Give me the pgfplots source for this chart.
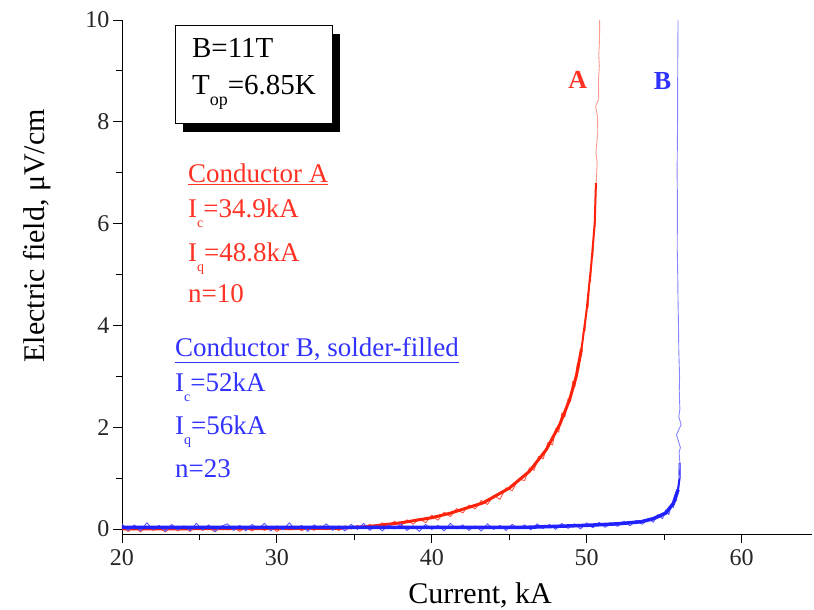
\documentclass[border=0pt]{standalone}
\usepackage{pgfplots}
\pgfplotsset{compat=1.18}
\usepackage{fontspec}
\setmainfont{Liberation Serif}
\usetikzlibrary{shadows}
\definecolor{cred}{RGB}{255,34,10}
\definecolor{cblue}{RGB}{34,34,255}
\definecolor{tred}{RGB}{255,50,35}
\definecolor{tblue}{RGB}{50,50,255}
% lowered subscript as in the original figure
\newcommand{\lo}[1]{\raisebox{-10pt}{\fontsize{14}{14}\selectfont #1}}

\begin{document}
\begin{tikzpicture}
\useasboundingbox (-122pt,-76pt) rectangle (692pt,534pt);
\begin{axis}[
  scale only axis, width=690pt, height=514pt,
  xmin=20, xmax=64.55, ymin=-0.1, ymax=10,
  axis lines*=left,
  xtick={20,30,40,50,60},
  xticklabels={\textrm{20},\textrm{30},\textrm{40},\textrm{50},\textrm{60}},
  minor xtick={25,35,45,55},
  ytick={0,2,4,6,8,10},
  yticklabels={\textrm{0},\textrm{2},\textrm{4},\textrm{6},\textrm{8},\textrm{10}},
  minor ytick={1,3,5,7,9},
  tick align=outside,
  major tick length=9pt, minor tick length=6pt,
  tick style={black, line width=0.8pt},
  axis line style={line width=0.8pt},
  ticklabel style={font=\rmfamily\fontsize{24}{24}\selectfont, text=black!85},
  xticklabel style={yshift=-3pt},
  xlabel={Current, kA},
  ylabel={Electric field, μV/cm},
  xlabel style={at={(axis description cs:0.519,-0.136)}, anchor=base, font=\fontsize{30}{30}\selectfont},
  ylabel style={at={(axis description cs:-0.1116,0.58)}, anchor=base, font=\fontsize{30}{30}\selectfont},
  no markers,
]

% conductor A, noise
\addplot[cred!75, line width=0.9pt, line join=round] coordinates {
(20.0,0.04) (20.4,-0.05) (20.8,0.03) (21.2,-0.06) (21.6,0.05) (22.0,-0.03) (22.4,0.02) (22.8,-0.06)
(23.2,0.04) (23.6,-0.04) (24.0,0.03) (24.4,-0.05) (24.8,0.05) (25.2,-0.03) (25.6,0.02) (26.0,-0.06)
(26.4,0.04) (26.8,-0.02) (27.2,0.05) (27.6,-0.05) (28.0,0.03) (28.4,-0.04) (28.8,0.04) (29.2,-0.03)
(29.6,0.05) (30.0,-0.05) (30.4,0.03) (30.8,-0.02) (31.2,0.05) (31.6,-0.04) (32.0,0.04) (32.4,-0.03)
(32.8,0.06) (33.2,-0.02) (33.6,0.05) (34.0,-0.03) (34.4,0.06) (34.8,0.00) (35.2,0.07) (35.6,0.01)
(36.0,0.09) (36.4,0.01) (36.8,0.12) (37.2,0.03) (37.6,0.15) (38.0,0.06) (38.4,0.18) (38.8,0.09)
(39.2,0.21) (39.6,0.12) (40.0,0.27) (40.4,0.17) (40.8,0.33) (41.2,0.24) (41.6,0.40) (42.0,0.31)
(42.4,0.47) (42.8,0.39) (43.2,0.56) (43.6,0.48) (44.0,0.66) (44.4,0.58) (44.8,0.81) (45.2,0.75)
(45.6,0.98) (46.0,0.95) (46.3,1.20) (46.6,1.15) (46.9,1.42) (47.2,1.38) (47.5,1.70) (47.8,1.65)
(48.0,1.97) (48.2,1.90) (48.4,2.28) (48.6,2.20) (48.8,2.56) (48.95,2.50) (49.1,2.90) (49.25,2.80)
(49.4,3.25) (49.5,3.15) (49.6,3.55) (49.7,3.50) (49.8,3.92) (49.9,3.90) (50.0,4.38) (50.1,4.35)
(50.2,4.92) (50.25,4.85) (50.35,5.42) (50.4,5.35) (50.5,5.97) (50.55,5.95) (50.58,6.55) (50.62,6.80)
};
% conductor A, band
\addplot[cred, line width=3pt, line join=round] coordinates {
(20,0.00) (34,0.01) (36,0.05) (38,0.12) (40,0.22) (41.2,0.31) (43.3,0.51) (45,0.80)
(46.3,1.13) (47.4,1.56) (48.26,2.05) (48.9,2.54) (49.33,3.00) (49.66,3.52)
};
\addplot[cred, line width=2pt, line join=round] coordinates {
(49.66,3.52) (50.0,4.30) (50.3,5.20) (50.52,6.00) (50.6,6.80)
};
% conductor A, thin upper part
\addplot[cred!45, line width=0.9pt] coordinates {
(50.62,6.80) (50.68,7.20) (50.60,7.40) (50.72,7.80) (50.70,8.10) (50.58,8.30) (50.78,8.45)
(50.76,8.80) (50.82,9.10) (50.78,9.30) (50.83,9.60) (50.84,10.00)
};

% conductor B, noise
\addplot[cblue!75, line width=0.9pt, line join=round] coordinates {
(20.0,0.10) (20.4,-0.03) (20.8,0.08) (21.2,-0.04) (21.6,0.12) (22.0,-0.01) (22.4,0.07) (22.8,-0.05)
(23.2,0.09) (23.6,-0.02) (24.0,0.06) (24.4,-0.04) (24.8,0.11) (25.2,-0.02) (25.6,0.08) (26.0,-0.05)
(26.4,0.05) (26.8,0.10) (27.2,-0.03) (27.6,0.07) (28.0,-0.04) (28.4,0.09) (28.8,0.00) (29.2,0.11)
(29.6,-0.04) (30.0,0.06) (30.4,-0.02) (30.8,0.12) (31.2,-0.01) (31.6,0.07) (32.0,-0.05) (32.4,0.08)
(32.8,0.01) (33.2,0.10) (33.6,-0.03) (34.0,0.06) (34.4,-0.04) (34.8,0.09) (35.2,-0.01) (35.6,0.11)
(36.0,-0.03) (36.4,0.07) (36.8,-0.04) (37.2,0.08) (37.6,0.00) (38.0,0.10) (38.4,-0.03) (38.8,0.06)
(39.2,-0.05) (39.6,0.09) (40.0,-0.01) (40.4,0.07) (40.8,-0.04) (41.2,0.11) (41.6,0.00) (42.0,0.08)
(42.4,-0.03) (42.8,0.06) (43.2,-0.04) (43.6,0.10) (44.0,-0.01) (44.4,0.07) (44.8,-0.03) (45.2,0.09)
(45.6,0.00) (46.0,0.08) (46.4,-0.02) (46.8,0.10) (47.2,0.01) (47.6,0.09) (48.0,-0.01) (48.4,0.11)
(48.8,0.01) (49.2,0.10) (49.6,0.00) (50.0,0.12) (50.4,0.02) (50.8,0.13) (51.2,0.03) (51.6,0.12)
(52.0,0.05) (52.4,0.15) (52.8,0.06) (53.2,0.17) (53.6,0.09) (54.0,0.21) (54.3,0.13) (54.6,0.28)
(54.9,0.20) (55.1,0.37) (55.3,0.28) (55.5,0.49) (55.6,0.42) (55.75,0.66) (55.8,0.55) (55.9,0.84)
(55.92,0.74) (56.0,1.00)
};
% conductor B, band
\addplot[cblue, line width=3.5pt, line join=round] coordinates {
(20,0.03) (46,0.03) (48,0.05) (50,0.07) (52,0.10) (53.5,0.14) (54.3,0.20) (55.1,0.31)
(55.6,0.50) (55.9,0.77)
};
\addplot[cblue, line width=2pt, line join=round] coordinates {
(55.9,0.77) (56.0,1.00) (56.0,1.30)
};
% conductor B, thin upper part
\addplot[cblue!55, line width=0.9pt] coordinates {
(56.0,1.00) (55.95,1.10) (56.02,1.30) (55.97,1.50) (56.05,1.60) (55.80,1.85) (56.10,2.05)
(55.95,2.20) (56.02,2.35) (55.98,2.70) (56.00,3.00) (55.95,3.50) (55.93,4.00) (55.90,4.50)
(55.88,5.00) (55.85,5.50) (55.86,6.50) (55.84,7.00) (55.87,8.00) (55.88,9.00) (55.90,10.00)
};

% parameter box
\node[draw, line width=0.8pt, fill=white,
      drop shadow={shadow xshift=8pt, shadow yshift=-9pt, fill=black, opacity=1},
      minimum width=157pt, minimum height=98pt, align=left,
      font=\fontsize{29}{37}\selectfont]
  at (axis cs:28.52,8.94)
  {B=11T\\T\raisebox{-11pt}{\fontsize{18}{18}\selectfont op}=6.85K};

\node[anchor=base, text=tred, font=\bfseries\fontsize{26}{26}\selectfont] at (axis cs:49.42,8.66) {A};
\node[anchor=base, text=tblue, font=\bfseries\fontsize{26}{26}\selectfont] at (axis cs:54.90,8.63) {B};

\begin{scope}[every node/.style={anchor=base west, inner sep=0pt, font=\fontsize{27}{27}\selectfont}]
\node[text=tred] at (axis cs:24.26,6.81) {\underline{Conductor A}};
\node[text=tred] at (axis cs:24.26,6.12) {I\lo{c}=34.9kA};
\node[text=tred] at (axis cs:24.26,5.26) {I\lo{q}=48.8kA};
\node[text=tred] at (axis cs:24.26,4.45) {n=10};
\node[text=tblue] at (axis cs:23.42,3.39) {\underline{Conductor B, solder-filled}};
\node[text=tblue] at (axis cs:23.42,2.70) {I\lo{c}=52kA};
\node[text=tblue] at (axis cs:23.42,1.85) {I\lo{q}=56kA};
\node[text=tblue] at (axis cs:23.42,1.02) {n=23};
\end{scope}
\end{axis}
\end{tikzpicture}
\end{document}
